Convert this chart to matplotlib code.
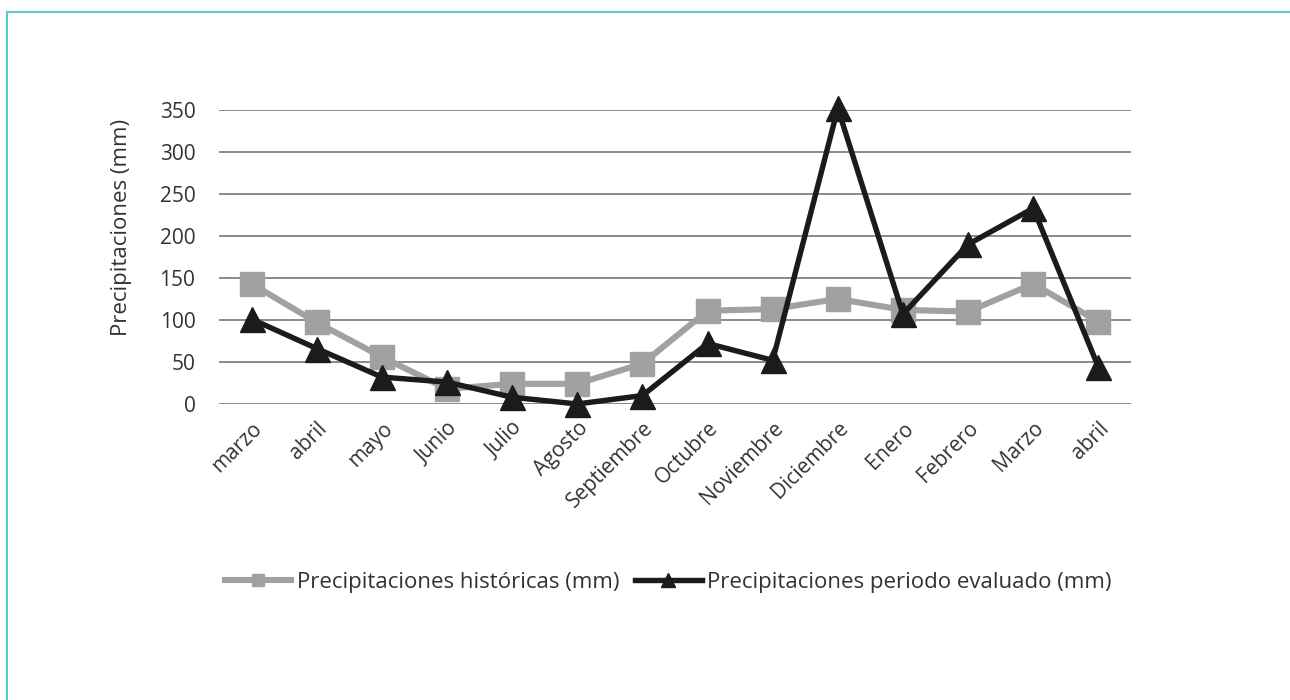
import numpy as np
import matplotlib.pyplot as plt
from matplotlib.lines import Line2D

plt.rcParams['font.family'] = ['Open Sans', 'DejaVu Sans']

meses = ['marzo', 'abril', 'mayo', 'Junio', 'Julio', 'Agosto', 'Septiembre',
         'Octubre', 'Noviembre', 'Diciembre', 'Enero', 'Febrero', 'Marzo', 'abril']
historicas = [143, 97, 56, 18, 24, 24, 48, 111, 113, 125, 112, 110, 143, 98]
evaluado = [101, 66, 32, 26, 8, 0, 10, 72, 52, 352, 107, 190, 233, 44]

fig = plt.figure(figsize=(12.9, 7), dpi=100)
ax = fig.add_axes([0.1698, 0.4229, 0.7069, 0.42])

x = np.arange(len(meses))
ax.plot(x, historicas, color='#a0a2a2', lw=4.4, marker='s', ms=17,
        label='Precipitaciones históricas (mm)', clip_on=False, zorder=3)
ax.plot(x, evaluado, color='#1c1a1c', lw=3.9, marker='^', ms=18,
        label='Precipitaciones periodo evaluado (mm)', clip_on=False, zorder=4)

ax.set_xlim(-0.5, len(meses) - 0.5)
ax.set_ylim(0, 350)
ax.set_yticks(np.arange(0, 351, 50))
ax.yaxis.grid(True, color='#8a8a8a', lw=1.4)
ax.set_axisbelow(True)
for s in ax.spines.values():
    s.set_visible(False)

ax.set_xticks(x)
ax.set_xticklabels(meses, rotation=45, ha='right', rotation_mode='anchor')
ax.tick_params(axis='both', length=0, labelsize=15, labelcolor='#333333')
ax.tick_params(axis='x', pad=10)
ax.tick_params(axis='y', pad=17)
ax.set_ylabel('Precipitaciones (mm)', fontsize=16, color='#333333')
ax.yaxis.set_label_coords(-0.0954, 0.60)

fig.legend(loc='center', bbox_to_anchor=(0.518, 0.168), ncol=2, frameon=False,
           fontsize=16, handlelength=3.0, handletextpad=0.25, columnspacing=0.7,
           markerscale=0.55, labelcolor='#333333')

# thin teal frame along top and left edges
fig.add_artist(Line2D([0.0054, 1.0], [0.983, 0.983], color='#5cc9cf', lw=1.5))
fig.add_artist(Line2D([0.0054, 0.0054], [0.0, 0.983], color='#5cc9cf', lw=1.5))

fig.savefig('out.png', dpi=100)
